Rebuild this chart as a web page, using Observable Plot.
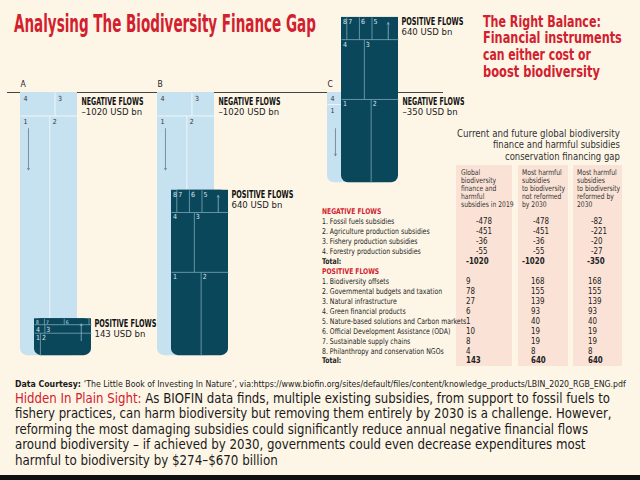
<!DOCTYPE html>
<html>
<head>
<meta charset="utf-8">
<script src="https://cdn.jsdelivr.net/npm/d3@7"></script>
<script src="https://cdn.jsdelivr.net/npm/@observablehq/plot@0.6"></script>
<style>
  html, body { margin: 0; padding: 0; background: #fdf6e7; }
  #page { position: relative; width: 640px; height: 480px; overflow: hidden; background: #fdf6e7; }
  #chart { position: absolute; left: 0; top: 0; }
  #overlay { position: absolute; left: 0; top: 0; }
</style>
</head>
<body>
<div id="page">
  <div id="chart"></div>
  <svg id="overlay" width="640" height="480"></svg>
</div>
<script>
// ---------------- DATA ----------------
const panels = ["A", "B", "C"];
const negativeItems = [
  "Fossil fuels subsidies",
  "Agriculture production subsidies",
  "Fishery production subsidies",
  "Forestry production subsidies"
];
const positiveItems = [
  "Biodiversity offsets",
  "Governmental budgets and taxation",
  "Natural infrastructure",
  "Green financial products",
  "Nature-based solutions and Carbon markets",
  "Official Development Assistance (ODA)",
  "Sustainable supply chains",
  "Philanthropy and conservation NGOs"
];
const negativeA = [-478, -451, -36, -55];
const negativeB = [-478, -451, -36, -55];
const negativeC = [-82, -221, -20, -27];
const positiveA = [9, 78, 27, 6, 1, 10, 8, 4];
const positiveB = [168, 155, 139, 93, 40, 19, 19, 8];
const positiveC = [168, 155, 139, 93, 40, 19, 19, 8];
const negativeTotals = [-1020, -1020, -350];
const positiveTotals = [143, 640, 640];
const columnHeaders = [
  ["Global", "biodiversity", "finance and", "harmful", "subsidies in 2019"],
  ["Most harmful", "subsidies", "to biodiversity", "not reformed", "by 2030"],
  ["Most harmful", "subsidies", "to biodiversity", "reformed by", "2030"]
];
const titleText = "Analysing The Biodiversity Finance Gap";
const headingLines = ["The Right Balance:", "Financial instruments", "can either cost or", "boost biodiversity"];
const tableTitleLines = ["Current and future global biodiversity", "finance and harmful subsidies", "conservation financing gap"];
const sourceLabel = "Data Courtesy: ";
const sourceText = "\u2018The Little Book of Investing In Nature\u2019, via:https://www.biofin.org/sites/default/files/content/knowledge_products/LBIN_2020_RGB_ENG.pdf";
const noteLead = "Hidden In Plain Sight:";
const noteLines = [
  " As BIOFIN data finds, multiple existing subsidies, from support to fossil fuels to",
  "fishery practices, can harm biodiversity but removing them entirely by 2030 is a challenge. However,",
  "reforming the most damaging subsidies could significantly reduce annual negative financial flows",
  "around biodiversity \u2013 if achieved by 2030, governments could even decrease expenditures most",
  "harmful to biodiversity by $274\u2013$670 billion"
];

// ---------------- STYLE / LAYOUT ----------------
const NARROW = "'Liberation Sans Narrow','DejaVu Sans Condensed','Arial Narrow',sans-serif";
const RED = "#d2202e";
const LIGHT = "#c6e1ef", DARK = "#0b475b";
const W = 640, H = 370, barPx = 57, unitPx = 0.258, basePx = 92;
const panelLeft = [20, 157, 327].map(v => v / barPx);
const darkShift = 14 / barPx;
const cornerUnits = 9 / unitPx;
const negRows = [[3, 2], [0, 1]];
const posRows = [[0, 1], [3, 2], [7, 6, 5, 4]];
const negSeries = [negativeA, negativeB, negativeC];
const posSeries = [positiveA, positiveB, positiveC];

const negBars = [], negSquare = [], posBars = [], posSquare = [];
const negCells = [], posCells = [], negLines = [], posLines = [];
const negArrows = [], posArrows = [], negLabels = [], posLabels = [], letters = [];
const fmt = v => (v < 0 ? "\u2013" + Math.abs(v) : String(v)) + " USD bn";
const cellFont = h => Math.min(7, h * unitPx - 1);

panels.forEach((p, i) => {
  const lx = panelLeft[i], dxl = lx + darkShift;
  const neg = negSeries[i].map(v => -v);
  const pos = posSeries[i];
  // negative flows hang down from the baseline
  let y = 0;
  negRows.forEach((row, r) => {
    const h = d3.sum(row, k => neg[k]);
    let x = lx;
    row.forEach((k, j) => {
      if (j > 0) negLines.push({x1: x, x2: x, y1: y, y2: y - h});
      const w = neg[k] / h;
      if (w > 0.06) negCells.push({label: String(k + 1), x, top: y, fs: cellFont(h)});
      x += w;
    });
    y -= h;
    if (r < negRows.length - 1) negLines.push({x1: lx, x2: lx + 1, y1: y, y2: y});
  });
  const negBottom = y;
  negBars.push({x1: lx, x2: lx + 1, y1: 0, y2: negBottom});
  negSquare.push({x1: lx, x2: lx + 1, y1: 0, y2: negBottom + cornerUnits});
  negArrows.push({x: lx + 0.14, y1: -140, y2: Math.max(-300, 0.7 * negBottom)});
  // positive flows rise from the bottom of the negative flows
  let yb = negBottom;
  posRows.forEach((row, r) => {
    const h = d3.sum(row, k => pos[k]);
    let x = dxl;
    row.forEach((k, j) => {
      if (j > 0) posLines.push({x1: x, x2: x, y1: yb, y2: yb + h});
      const w = pos[k] / h;
      if (w > 0.06) posCells.push({label: String(k + 1), x, top: yb + h, fs: cellFont(h)});
      x += w;
    });
    yb += h;
    if (r < posRows.length - 1) posLines.push({x1: dxl, x2: dxl + 1, y1: yb, y2: yb});
  });
  const posTop = yb;
  posBars.push({x1: dxl, x2: dxl + 1, y1: negBottom, y2: posTop});
  posSquare.push({x1: dxl, x2: dxl + 1, y1: negBottom + cornerUnits, y2: posTop});
  posArrows.push({x: dxl + 0.82, y1: posTop - 85, y2: posTop - 20});
  negLabels.push({x: posTop > 0 ? dxl + 1 : lx + 1, y: 0, title: "NEGATIVE FLOWS", value: fmt(negativeTotals[i])});
  posLabels.push({x: dxl + 1, y: posTop, title: "POSITIVE FLOWS", value: fmt(positiveTotals[i])});
  letters.push({x: lx, y: 0, text: p});
});
const baseline = [{y: 0, x1: 7 / barPx, x2: 443 / barPx}];

// ---------------- CHART ----------------
const chart = Plot.plot({
  width: W, height: H, margin: 0,
  style: {background: "none", overflow: "visible"},
  x: {domain: [0, W / barPx], range: [0, W], axis: null},
  y: {domain: [-(H - basePx) / unitPx, basePx / unitPx], range: [H, 0], axis: null},
  marks: [
    Plot.ruleY(baseline, {y: "y", x1: "x1", x2: "x2", stroke: "#444", strokeWidth: 1}),
    Plot.text(letters, {x: "x", y: "y", text: "text", textAnchor: "start", lineAnchor: "bottom", dy: -5.5, fontSize: 8.5, fontFamily: NARROW, fill: "#222"}),
    // negative flows (light)
    Plot.rect(negBars, {x1: "x1", x2: "x2", y1: "y1", y2: "y2", fill: LIGHT, rx: 7}),
    Plot.rect(negSquare, {x1: "x1", x2: "x2", y1: "y1", y2: "y2", fill: LIGHT}),
    Plot.link(negLines, {x1: "x1", x2: "x2", y1: "y1", y2: "y2", stroke: "#eef6fa", strokeWidth: 1}),
    Plot.text(negCells, {x: "x", y: "top", text: "label", fontSize: "fs", textAnchor: "start", lineAnchor: "top", dx: 3, dy: 3.5, fontFamily: NARROW, fill: "#333"}),
    Plot.arrow(negArrows, {x1: "x", x2: "x", y1: "y1", y2: "y2", stroke: "#667c86", strokeWidth: 0.8, headLength: 3.5}),
    // positive flows (dark)
    Plot.rect(posBars, {x1: "x1", x2: "x2", y1: "y1", y2: "y2", fill: DARK, rx: 7}),
    Plot.rect(posSquare, {x1: "x1", x2: "x2", y1: "y1", y2: "y2", fill: DARK}),
    Plot.link(posLines, {x1: "x1", x2: "x2", y1: "y1", y2: "y2", stroke: "#7ea7b6", strokeWidth: 0.8}),
    Plot.text(posCells, {x: "x", y: "top", text: "label", fontSize: "fs", textAnchor: "start", lineAnchor: "top", dx: 1.5, dy: 2, fontFamily: NARROW, fill: "#d5e6ec"}),
    Plot.arrow(posArrows, {x1: "x", x2: "x", y1: "y1", y2: "y2", stroke: "#8fb6c4", strokeWidth: 0.8, headLength: 3.5}),
    // flow labels
    Plot.text(negLabels, {x: "x", y: "y", text: "title", textAnchor: "start", lineAnchor: "bottom", dx: 4, dy: 12, fontSize: 10, fontWeight: "bold", fontFamily: NARROW, fill: "#111"}),
    Plot.text(negLabels, {x: "x", y: "y", text: "value", textAnchor: "start", lineAnchor: "bottom", dx: 4, dy: 22.5, fontSize: 9.5, fontFamily: NARROW, fill: "#222"}),
    Plot.text(posLabels, {x: "x", y: "y", text: "title", textAnchor: "start", lineAnchor: "bottom", dx: 3, dy: 8, fontSize: 10, fontWeight: "bold", fontFamily: NARROW, fill: "#111"}),
    Plot.text(posLabels, {x: "x", y: "y", text: "value", textAnchor: "start", lineAnchor: "bottom", dx: 3, dy: 18, fontSize: 9.5, fontFamily: NARROW, fill: "#222"})
  ]
});
document.getElementById("chart").appendChild(chart);
// condense the bold flow titles horizontally (scale about their anchor point)
d3.select(chart).selectAll("text").filter(function () { return /FLOWS$/.test(this.textContent); })
  .each(function () {
    const k = 62 / (this.getComputedTextLength() || 62);
    const tr = this.getAttribute("transform") || "";
    this.setAttribute("transform", `${tr} scale(${k},1)`);
  });

// ---------------- TEXT, TABLE, NOTES ----------------
const ov = d3.select("#overlay");
// text placed at baseline (x, y); horizontally fitted by scaling to a width, or by a factor k
function T(x, y, s, o = {}) {
  const t = ov.append("text").attr("x", 0).attr("y", 0)
    .attr("font-family", o.family || NARROW).attr("font-size", o.size || 8)
    .attr("font-weight", o.weight || 400).attr("fill", o.fill || "#222");
  if (Array.isArray(s)) s.forEach(([str, st]) => {
    const ts = t.append("tspan").text(str);
    if (st) Object.entries(st).forEach(([k, v]) => ts.attr(k, v));
  });
  else t.text(s);
  const natural = t.node().getComputedTextLength() || 1;
  const sx = o.width ? o.width / natural : (o.k || 1);
  const left = o.right != null ? o.right - natural * sx : x;
  t.attr("transform", `translate(${left},${y}) scale(${sx},1)`);
  return t;
}

T(14, 32, titleText, {size: 24, weight: 700, fill: RED, width: 302});
const headingBase = [26.7, 43.2, 59.9, 76.5], headingW = [118, 139, 108, 117];
headingLines.forEach((s, i) => T(483, headingBase[i], s, {size: 15.5, weight: 700, fill: RED, width: headingW[i]}));

const ttBase = [136.7, 148.3, 160], ttW = [163, 127, 115];
tableTitleLines.forEach((s, i) => T(0, ttBase[i], s, {size: 10.8, fill: "#333", width: ttW[i], right: 620}));

// column backgrounds
[[456, 512], [518, 568], [573, 622]].forEach(([a, b]) =>
  ov.append("rect").attr("x", a).attr("y", 165).attr("width", b - a).attr("height", 201).attr("fill", "#fae3d6"));
const colX = [461, 522, 577];
columnHeaders.forEach((lines, c) => lines.forEach((s, k) => T(colX[c], 175 + k * 8.1, s, {size: 7.8, fill: "#333", k: 0.86})));

const tableRows = [
  {kind: "head", text: "NEGATIVE FLOWS"},
  ...negativeItems.map((n, i) => ({kind: "item", neg: true, text: `${i + 1}. ${n}`, vals: [negativeA[i], negativeB[i], negativeC[i]]})),
  {kind: "total", neg: true, text: "Total:", vals: negativeTotals},
  {kind: "head", text: "POSITIVE FLOWS"},
  ...positiveItems.map((n, i) => ({kind: "item", neg: false, text: `${i + 1}. ${n}`, vals: [positiveA[i], positiveB[i], positiveC[i]]})),
  {kind: "total", neg: false, text: "Total:", vals: positiveTotals}
];
const valX = [466, 531, 588], negOff = [10, 2, 3], negTotOff = [0, -9, -1];
tableRows.forEach((r, i) => {
  const yb = 211.5 + i * 9.95 + 2.7;
  if (r.kind === "head") { T(322, yb, r.text, {size: 7.8, weight: 700, fill: RED, k: 0.86}); return; }
  T(322, yb, r.text, {size: 8, weight: r.kind === "total" ? 700 : 400, fill: "#222", k: 0.86});
  r.vals.forEach((v, c) => {
    const off = r.neg ? (r.kind === "total" ? negTotOff[c] : negOff[c]) : 0;
    T(valX[c] + off, yb, String(v), {size: 8.3, weight: r.kind === "total" ? 700 : 400, fill: "#222", k: 0.95});
  });
});

T(15, 386.5, [[sourceLabel, {"font-weight": 700}], [sourceText]], {size: 8.6, width: 611, fill: "#1a1a1a"});
const noteBase = [402.5, 418, 433.7, 449.3, 465], noteW = [596, 597, 574, 571, 263];
noteLines.forEach((s, i) => {
  const parts = i === 0 ? [[noteLead, {fill: RED}], [s]] : [[s]];
  T(15, noteBase[i], parts, {size: 14.5, width: noteW[i], fill: "#1a1a1a"});
});
ov.append("rect").attr("x", 0).attr("y", 475).attr("width", 640).attr("height", 5).attr("fill", "#111");
</script>
</body>
</html>
